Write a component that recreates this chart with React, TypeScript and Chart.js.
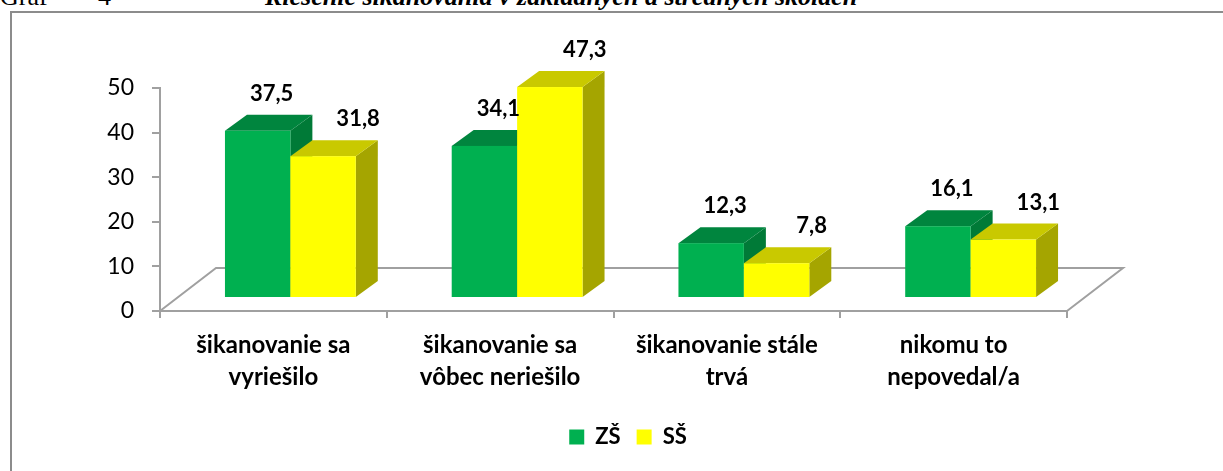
import React, { useEffect, useRef } from "react";
import { Chart, registerables } from "chart.js";

Chart.register(...registerables);

// ---- data ----
const categories: string[][] = [
  ["šikanovanie sa", "vyriešilo"],
  ["šikanovanie sa", "vôbec neriešilo"],
  ["šikanovanie stále", "trvá"],
  ["nikomu to", "nepovedal/a"],
];
const seriesNames = ["ZŠ", "SŠ"];
const zsValues = [37.5, 34.1, 12.3, 16.1];
const ssValues = [31.8, 47.3, 7.8, 13.1];
const yMin = 0;
const yMax = 50;
const yStep = 10;

const captionLabel = "Graf";
const captionNumber = "4";
const captionTitle = "Riešenie šikanovania v základných a stredných školách";

// ---- styles ----
const frontColors = ["#00B050", "#FFFF00"];
const topColors = ["#00853E", "#C9C900"];
const sideColors = ["#007A37", "#A5A500"];
const axisColor = "#A0A0A0";
const FONT = "Lato";

const BAR_SHIFT = { dx: 17, dy: -13 };
const BAR_DEPTH = { dx: 22, dy: -16 };
const FLOOR_DEPTH = { dx: 56, dy: -43 };
const LABEL_DX = [14, 35];
const LABEL_GAP = 14;

const fmt = (v: number) => String(v).replace(".", ",");

const box3d = {
  id: "box3d",
  beforeDatasetsDraw(chart: any) {
    const { ctx, chartArea, scales } = chart;
    const y0 = scales.y.getPixelForValue(0);
    const l = chartArea.left;
    const r = chartArea.right;
    ctx.save();
    ctx.strokeStyle = axisColor;
    ctx.lineWidth = 2;
    ctx.beginPath();
    ctx.moveTo(l, y0);
    ctx.lineTo(l + FLOOR_DEPTH.dx, y0 + FLOOR_DEPTH.dy);
    ctx.lineTo(r + FLOOR_DEPTH.dx, y0 + FLOOR_DEPTH.dy);
    ctx.lineTo(r, y0);
    ctx.stroke();
    ctx.restore();
  },
  beforeDatasetDraw() {
    return false;
  },
  afterDatasetsDraw(chart: any) {
    const { ctx } = chart;
    const n = chart.data.labels.length;
    const nd = chart.data.datasets.length;
    ctx.save();
    for (let i = 0; i < n; i++) {
      for (let di = 0; di < nd; di++) {
        const el = chart.getDatasetMeta(di).data[i];
        const { x, y, base, width } = el.getProps(["x", "y", "base", "width"], true);
        const L = x - width / 2 + BAR_SHIFT.dx;
        const R = x + width / 2 + BAR_SHIFT.dx;
        const T = y + BAR_SHIFT.dy;
        const B = base + BAR_SHIFT.dy;
        const dx = BAR_DEPTH.dx;
        const dy = BAR_DEPTH.dy;
        ctx.fillStyle = sideColors[di];
        ctx.beginPath();
        ctx.moveTo(R, T);
        ctx.lineTo(R + dx, T + dy);
        ctx.lineTo(R + dx, B + dy);
        ctx.lineTo(R, B);
        ctx.closePath();
        ctx.fill();
        ctx.fillStyle = topColors[di];
        ctx.beginPath();
        ctx.moveTo(L, T);
        ctx.lineTo(L + dx, T + dy);
        ctx.lineTo(R + dx, T + dy);
        ctx.lineTo(R, T);
        ctx.closePath();
        ctx.fill();
        ctx.fillStyle = frontColors[di];
        ctx.fillRect(L, T, R - L, B - T);
      }
    }
    ctx.fillStyle = "#000";
    ctx.font = `bold 22px ${FONT}`;
    ctx.textAlign = "center";
    ctx.textBaseline = "alphabetic";
    for (let di = 0; di < nd; di++) {
      const meta = chart.getDatasetMeta(di);
      meta.data.forEach((el: any, i: number) => {
        const { x, y } = el.getProps(["x", "y"], true);
        const v = chart.data.datasets[di].data[i];
        ctx.fillText(
          fmt(v),
          x + BAR_SHIFT.dx + LABEL_DX[di],
          y + BAR_SHIFT.dy + BAR_DEPTH.dy - LABEL_GAP
        );
      });
    }
    ctx.restore();
  },
};

export default function App() {
  const ref = useRef<HTMLCanvasElement>(null);
  useEffect(() => {
    const chart = new Chart(ref.current as HTMLCanvasElement, {
      type: "bar",
      data: {
        labels: categories as any,
        datasets: [
          { label: seriesNames[0], data: zsValues, backgroundColor: frontColors[0], borderWidth: 0 },
          { label: seriesNames[1], data: ssValues, backgroundColor: frontColors[1], borderWidth: 0 },
        ],
      },
      options: {
        responsive: false,
        animation: false,
        events: [],
        layout: { padding: { top: 88, left: 0, right: 0, bottom: 13 } },
        datasets: { bar: { categoryPercentage: 0.577, barPercentage: 1 } },
        scales: {
          x: {
            offset: true,
            grid: { offset: true, drawOnChartArea: false, drawTicks: true, tickLength: 7, color: axisColor, lineWidth: 2 },
            border: { display: true, color: axisColor, width: 2 },
            ticks: {
              color: "#000",
              font: { family: FONT, size: 24, weight: "bold", lineHeight: 1.3 },
              padding: 12,
              maxRotation: 0,
              autoSkip: false,
            },
            afterFit: (s: any) => {
              s.height = 99;
            },
          },
          y: {
            min: yMin,
            max: yMax,
            ticks: { stepSize: yStep, color: "#000", font: { family: FONT, size: 23 }, padding: 18 },
            grid: { drawOnChartArea: false, tickLength: 8, color: axisColor, lineWidth: 2 },
            border: { display: true, color: axisColor, width: 2 },
            afterFit: (s: any) => {
              s.width = 160;
            },
          },
          yR: {
            position: "right",
            min: yMin,
            max: yMax,
            ticks: { display: false },
            grid: { display: false, drawTicks: false },
            border: { display: false },
            afterFit: (s: any) => {
              s.width = 189;
            },
          },
        },
        plugins: {
          tooltip: { enabled: false },
          legend: {
            position: "bottom",
            labels: {
              boxWidth: 15,
              boxHeight: 15,
              color: "#000",
              padding: 16,
              font: { family: FONT, size: 22, weight: "bold" },
            },
          },
        },
      } as any,
      plugins: [box3d],
    });
    return () => chart.destroy();
  }, []);

  const cap: React.CSSProperties = {
    position: "absolute",
    top: -16,
    fontFamily: "'Liberation Serif', serif",
    fontSize: 26,
    lineHeight: "26px",
    whiteSpace: "nowrap",
    color: "#000",
  };

  return (
    <div style={{ position: "fixed", left: 0, top: 0, width: 1223, height: 471, overflow: "hidden", background: "#fff" }}>
      <span style={{ ...cap, left: 0 }}>{captionLabel}</span>
      <span style={{ ...cap, left: 98 }}>{captionNumber}</span>
      <span style={{ ...cap, left: 265, fontStyle: "italic", fontWeight: "bold" }}>{captionTitle}</span>
      <div
        style={{
          position: "absolute",
          left: 10,
          top: 11,
          width: 1400,
          height: 700,
          border: "2px solid #8C8C8C",
          boxSizing: "border-box",
        }}
      />
      <canvas
        ref={ref}
        width={1256}
        height={471}
        style={{ position: "absolute", left: 0, top: 0, width: 1256, height: 471, display: "block" }}
      />
    </div>
  );
}
